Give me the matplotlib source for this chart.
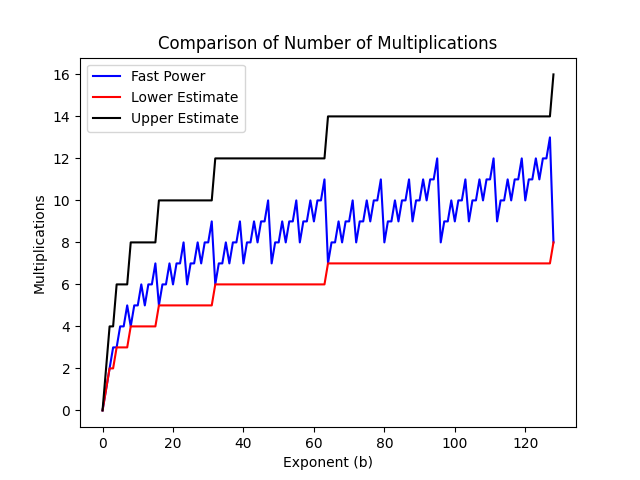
import matplotlib
matplotlib.use("Agg")
import matplotlib.pyplot as plt

exponents = list(range(0, 129))

fast_power = [
    0, 1, 2, 3, 3, 4, 4, 5, 4, 5, 5, 6, 5, 6, 6, 7,
    5, 6, 6, 7, 6, 7, 7, 8, 6, 7, 7, 8, 7, 8, 8, 9,
    6, 7, 7, 8, 7, 8, 8, 9, 7, 8, 8, 9, 8, 9, 9, 10,
    7, 8, 8, 9, 8, 9, 9, 10, 8, 9, 9, 10, 9, 10, 10, 11,
    7, 8, 8, 9, 8, 9, 9, 10, 8, 9, 9, 10, 9, 10, 10, 11,
    8, 9, 9, 10, 9, 10, 10, 11, 9, 10, 10, 11, 10, 11, 11, 12,
    8, 9, 9, 10, 9, 10, 10, 11, 9, 10, 10, 11, 10, 11, 11, 12,
    9, 10, 10, 11, 10, 11, 11, 12, 10, 11, 11, 12, 11, 12, 12, 13,
    8,
]

lower_estimate = [
    0, 1, 2, 2, 3, 3, 3, 3, 4, 4, 4, 4, 4, 4, 4, 4,
    5, 5, 5, 5, 5, 5, 5, 5, 5, 5, 5, 5, 5, 5, 5, 5,
    6, 6, 6, 6, 6, 6, 6, 6, 6, 6, 6, 6, 6, 6, 6, 6,
    6, 6, 6, 6, 6, 6, 6, 6, 6, 6, 6, 6, 6, 6, 6, 6,
    7, 7, 7, 7, 7, 7, 7, 7, 7, 7, 7, 7, 7, 7, 7, 7,
    7, 7, 7, 7, 7, 7, 7, 7, 7, 7, 7, 7, 7, 7, 7, 7,
    7, 7, 7, 7, 7, 7, 7, 7, 7, 7, 7, 7, 7, 7, 7, 7,
    7, 7, 7, 7, 7, 7, 7, 7, 7, 7, 7, 7, 7, 7, 7, 7,
    8,
]

upper_estimate = [
    0, 2, 4, 4, 6, 6, 6, 6, 8, 8, 8, 8, 8, 8, 8, 8,
    10, 10, 10, 10, 10, 10, 10, 10, 10, 10, 10, 10, 10, 10, 10, 10,
    12, 12, 12, 12, 12, 12, 12, 12, 12, 12, 12, 12, 12, 12, 12, 12,
    12, 12, 12, 12, 12, 12, 12, 12, 12, 12, 12, 12, 12, 12, 12, 12,
    14, 14, 14, 14, 14, 14, 14, 14, 14, 14, 14, 14, 14, 14, 14, 14,
    14, 14, 14, 14, 14, 14, 14, 14, 14, 14, 14, 14, 14, 14, 14, 14,
    14, 14, 14, 14, 14, 14, 14, 14, 14, 14, 14, 14, 14, 14, 14, 14,
    14, 14, 14, 14, 14, 14, 14, 14, 14, 14, 14, 14, 14, 14, 14, 14,
    16,
]

fig, ax = plt.subplots(figsize=(6.4, 4.8), dpi=100)
ax.plot(exponents, fast_power, color="blue", label="Fast Power")
ax.plot(exponents, lower_estimate, color="red", label="Lower Estimate")
ax.plot(exponents, upper_estimate, color="black", label="Upper Estimate")
ax.set_title("Comparison of Number of Multiplications")
ax.set_xlabel("Exponent (b)")
ax.set_ylabel("Multiplications")
ax.legend(loc="upper left")
fig.savefig("out.png")
